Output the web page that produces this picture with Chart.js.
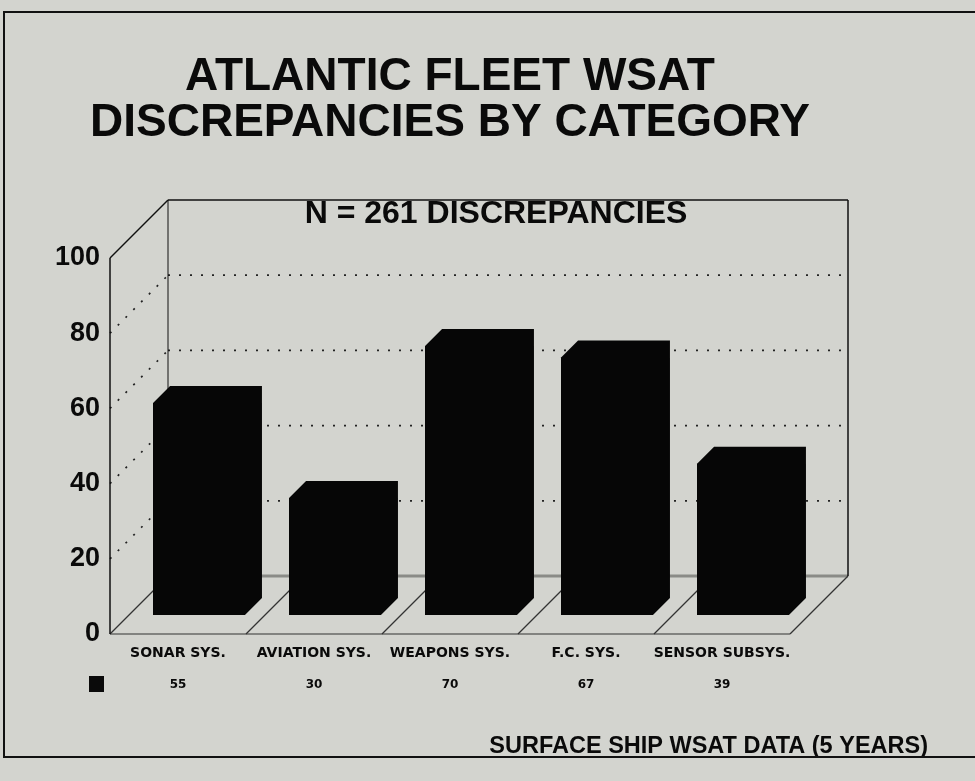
<!DOCTYPE html>
<html lang="en">
<head>
    <meta charset="UTF-8">
    <title>Atlantic Fleet WSAT Discrepancies by Category</title>
    <script src="https://cdn.jsdelivr.net/npm/chart.js"></script>
    <style>
        body { margin: 0; background: #d3d4cf; }
    </style>
</head>
<body>
    <canvas id="wsatChart" width="975" height="781"></canvas>
    <script>
        // data
        const categories = ['SONAR SYS.', 'AVIATION SYS.', 'WEAPONS SYS.', 'F.C. SYS.', 'SENSOR SUBSYS.'];
        const discrepancies = [55, 30, 70, 67, 39];
        const yTicks = [0, 20, 40, 60, 80, 100];
        const titleLines = ['ATLANTIC FLEET WSAT', 'DISCREPANCIES BY CATEGORY'];
        const totalLabel = 'N = 261 DISCREPANCIES';
        const sourceLabel = 'SURFACE SHIP WSAT DATA (5 YEARS)';

        const SANS = '"Liberation Sans", Arial, sans-serif';
        const WIDE = '"DejaVu Sans", Verdana, sans-serif';
        const LABEL_SHIFT = -21;   // labels sit on the front edge of the floor
        const DEPTH = 58;          // depth of the 3d box
        const BAR_DEPTH = 17;

        // back wall, floor and dotted grid
        const framePlugin = {
            id: 'frame',
            beforeDatasetsDraw(chart) {
                const ctx = chart.ctx;
                const x = chart.scales.x, y = chart.scales.y;
                const step = x.getPixelForValue(1) - x.getPixelForValue(0);
                const fl = x.getPixelForValue(0) - step / 2 + LABEL_SHIFT;
                const fr = x.getPixelForValue(categories.length - 1) + step / 2 + LABEL_SHIFT;
                const y0 = y.getPixelForValue(0), yTop = y.getPixelForValue(100);
                const line = (a, b, c, d) => { ctx.beginPath(); ctx.moveTo(a, b); ctx.lineTo(c, d); ctx.stroke(); };

                ctx.save();
                // dotted grid on back and left walls
                ctx.strokeStyle = '#222';
                ctx.lineWidth = 1.7;
                ctx.setLineDash([2, 9]);
                yTicks.filter(v => v > 0 && v < 100).forEach(v => {
                    const py = y.getPixelForValue(v);
                    line(fl + DEPTH, py - DEPTH, fr + DEPTH, py - DEPTH);
                    line(fl, py, fl + DEPTH, py - DEPTH);
                });
                ctx.setLineDash([]);

                // floor
                ctx.strokeStyle = '#8a8b87';
                ctx.lineWidth = 3;
                line(fl + DEPTH, y0 - DEPTH, fr + DEPTH, y0 - DEPTH);
                ctx.strokeStyle = '#333';
                ctx.lineWidth = 1.2;
                line(fl, y0, fr, y0);
                line(fl, y0, fl + DEPTH, y0 - DEPTH);
                line(fr, y0, fr + DEPTH, y0 - DEPTH);
                for (let i = 1; i < categories.length; i++) {
                    const sx = fl + step * i;
                    line(sx, y0, sx + DEPTH, y0 - DEPTH);
                }

                // walls
                ctx.strokeStyle = '#111';
                ctx.lineWidth = 1.5;
                line(fl, yTop, fl, y0);
                line(fl, yTop, fl + DEPTH, yTop - DEPTH);
                line(fl + DEPTH, yTop - DEPTH, fr + DEPTH, yTop - DEPTH);
                line(fr + DEPTH, yTop - DEPTH, fr + DEPTH, y0 - DEPTH);
                ctx.lineWidth = 1;
                line(fl + DEPTH, yTop - DEPTH, fl + DEPTH, y0 - DEPTH);
                ctx.restore();
            },
            afterDatasetsDraw(chart) {
                // give each bar its bevelled depth
                const ctx = chart.ctx;
                const d = BAR_DEPTH;
                ctx.save();
                ctx.fillStyle = '#060606';
                chart.getDatasetMeta(0).data.forEach(bar => {
                    const l = bar.x - bar.width / 2, r = bar.x + bar.width / 2;
                    ctx.beginPath();
                    ctx.moveTo(l, bar.base);
                    ctx.lineTo(l, bar.y);
                    ctx.lineTo(l + d, bar.y - d);
                    ctx.lineTo(r + d, bar.y - d);
                    ctx.lineTo(r + d, bar.base - d);
                    ctx.lineTo(r, bar.base);
                    ctx.closePath();
                    ctx.fill();
                });
                ctx.restore();
            }
        };

        // titles, value row, source note and outer border
        const textPlugin = {
            id: 'texts',
            afterDraw(chart) {
                const ctx = chart.ctx;
                const x = chart.scales.x;
                ctx.save();
                ctx.fillStyle = '#0a0a0a';
                ctx.textAlign = 'center';
                ctx.textBaseline = 'alphabetic';
                ctx.font = 'bold 46px ' + SANS;
                ctx.fillText(titleLines[0], 450, 90);
                ctx.fillText(titleLines[1], 450, 136);

                ctx.font = 'bold 32px ' + SANS;
                ctx.fillText(totalLabel, 496, 223);

                ctx.font = 'bold 12px ' + WIDE;
                ctx.textBaseline = 'middle';
                discrepancies.forEach((v, i) => {
                    ctx.fillText(String(v), x.getPixelForValue(i) + LABEL_SHIFT, 685);
                });
                ctx.fillRect(89, 676, 15, 16);

                ctx.textAlign = 'right';
                ctx.textBaseline = 'alphabetic';
                ctx.font = 'bold 23.5px ' + SANS;
                ctx.fillText(sourceLabel, 928, 753);

                ctx.strokeStyle = '#111';
                ctx.lineWidth = 2;
                ctx.strokeRect(4, 12, 990, 745);
                ctx.restore();
            }
        };

        const ctx = document.getElementById('wsatChart').getContext('2d');
        new Chart(ctx, {
            type: 'bar',
            data: {
                labels: categories,
                datasets: [{
                    data: discrepancies,
                    yAxisID: 'yBar',
                    backgroundColor: '#060606',
                    barPercentage: 0.676,
                    categoryPercentage: 1,
                    base: -0.8
                }]
            },
            options: {
                responsive: false,
                animation: false,
                layout: { padding: { left: 11, right: 164, top: 258, bottom: 107 } },
                plugins: {
                    legend: { display: false },
                    tooltip: { enabled: false }
                },
                scales: {
                    x: {
                        grid: { display: false, drawTicks: false },
                        border: { display: false },
                        ticks: {
                            labelOffset: LABEL_SHIFT,
                            padding: 11,
                            maxRotation: 0,
                            autoSkip: false,
                            color: '#0a0a0a',
                            font: { family: WIDE, size: 14, weight: 'bold' }
                        },
                        afterFit: s => { s.height = 40; }
                    },
                    y: {
                        min: 0,
                        max: 100,
                        afterBuildTicks: s => { s.ticks = yTicks.map(v => ({ value: v })); },
                        grid: { display: false, drawTicks: false },
                        border: { display: false },
                        ticks: {
                            padding: 31,
                            color: '#0a0a0a',
                            font: { family: SANS, size: 27, weight: 'bold' }
                        },
                        afterFit: s => { s.width = 120; }
                    },
                    // bars stand a little behind the front edge, so their scale is shifted
                    yBar: { display: false, min: -5.79, max: 93.16 }
                }
            },
            plugins: [framePlugin, textPlugin]
        });
    </script>
</body>
</html>
